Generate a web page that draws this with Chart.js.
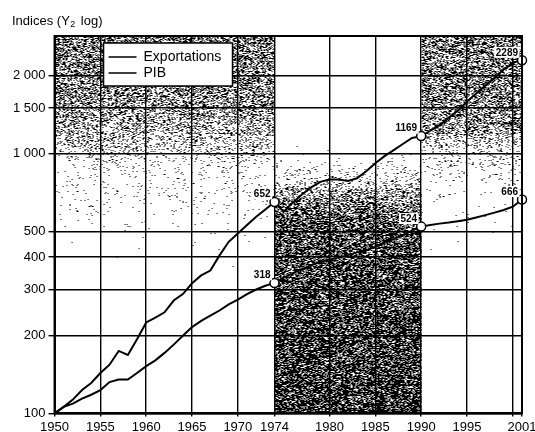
<!DOCTYPE html>
<html lang="fr">
<head>
<meta charset="UTF-8">
<title>Indices Exportations / PIB</title>
<script src="https://cdn.jsdelivr.net/npm/chart.js"></script>
<style>
    html, body { margin: 0; padding: 0; background: white; overflow: hidden; }
    #wrap { position: relative; width: 545px; height: 446px; }
</style>
</head>
<body>
<div id="wrap"><canvas id="chart" width="545" height="446"></canvas></div>
<script>
const years = [1950, 1951, 1952, 1953, 1954, 1955, 1956, 1957, 1958, 1959,
               1960, 1961, 1962, 1963, 1964, 1965, 1966, 1967, 1968, 1969,
               1970, 1971, 1972, 1973, 1974, 1975, 1976, 1977, 1978, 1979,
               1980, 1981, 1982, 1983, 1984, 1985, 1986, 1987, 1988, 1989,
               1990, 1991, 1992, 1993, 1994, 1995, 1996, 1997, 1998, 1999,
               2000, 2001];
const exportations = [100, 106, 113, 123, 131, 143, 154, 174, 168, 193,
                      224, 234, 245, 272, 288, 317, 340, 355, 406, 458,
                      493, 531, 572, 610, 652, 598, 649, 697, 742, 779,
                      796, 796, 786, 804, 856, 919, 979, 1033, 1090, 1150,
                      1169, 1226, 1289, 1372, 1469, 1589, 1707, 1829, 1958, 2111,
                      2243, 2289];
const pib = [100, 106, 109, 114, 118, 123, 132, 135, 135, 143,
             152, 160, 171, 184, 199, 215, 227, 238, 249, 263,
             274, 288, 300, 310, 318, 333, 347, 359, 372, 383,
             391, 398, 407, 417, 425, 438, 454, 469, 485, 506,
             524, 531, 538, 543, 550, 557, 568, 580, 593, 607,
             625, 666];
const markedYears = [1974, 1990, 2001];
const xTicks = [1950, 1955, 1960, 1965, 1970, 1974, 1980, 1985, 1990, 1995, 2000, 2001];
const yTicks = [100, 200, 300, 400, 500, 1000, 1500, 2000];
const periods = [[1950, 1974], [1974, 1990], [1990, 2001]];

const FONT = '"Liberation Sans", Arial, sans-serif';

// density of the dotted background, per period, from top value to bottom value
const shade = [
    [[2840, 0.5], [1600, 0.45], [1100, 0.28], [900, 0.14], [600, 0.07], [450, 0.03], [350, 0]],
    [[2840, 0], [1100, 0], [1000, 0.04], [800, 0.2], [650, 0.5], [550, 0.62], [100, 0.7]],
    [[2840, 0.5], [1300, 0.45], [1050, 0.22], [800, 0.1], [600, 0.05], [450, 0.02], [300, 0]]
];

function grain(x, y) {
    let h = Math.imul(x, 73856093) ^ Math.imul(y, 19349663);
    h ^= h >>> 16;
    h = Math.imul(h, 0x85ebca6b);
    h ^= h >>> 13;
    h = Math.imul(h, 0xc2b2ae35);
    h ^= h >>> 16;
    return (h >>> 0) / 4294967296;
}

function densityAt(stops, py) {
    if (py <= stops[0][0]) return stops[0][1];
    for (let i = 1; i < stops.length; i++) {
        if (py <= stops[i][0]) {
            const t = (py - stops[i - 1][0]) / (stops[i][0] - stops[i - 1][0]);
            return stops[i - 1][1] + t * (stops[i][1] - stops[i - 1][1]);
        }
    }
    return stops[stops.length - 1][1];
}

const stipple = {
    id: 'stipple',
    beforeDraw(chart) {
        const { ctx, chartArea: a, scales: { x, y } } = chart;
        const w = Math.round(a.right - a.left), h = Math.round(a.bottom - a.top);
        const off = document.createElement('canvas');
        off.width = w; off.height = h;
        const octx = off.getContext('2d');
        const img = octx.createImageData(w, h);
        periods.forEach((p, k) => {
            const x0 = Math.round(x.getPixelForValue(p[0]) - a.left);
            const x1 = Math.round(x.getPixelForValue(p[1]) - a.left);
            const stops = shade[k].map(s => [y.getPixelForValue(s[0]) - a.top, s[1]]);
            for (let py = 0; py < h; py++) {
                const d = densityAt(stops, py);
                if (d <= 0) continue;
                for (let px = x0; px < x1; px++) {
                    // fine noise mixed with a little coarser clumping
                    const g = 0.75 * grain(px, py) + 0.25 * grain((px >> 1) + 7001, (py >> 1) + 9001);
                    if (g < d) img.data[(py * w + px) * 4 + 3] = 255;
                }
            }
        });
        octx.putImageData(img, 0, 0);
        ctx.drawImage(off, a.left, a.top, w, h);
    }
};

const pointLabels = {
    id: 'pointLabels',
    afterDatasetsDraw(chart) {
        const ctx = chart.ctx;
        ctx.save();
        ctx.font = 'bold 10px ' + FONT;
        ctx.textAlign = 'right';
        ctx.textBaseline = 'middle';
        chart.data.datasets.forEach((ds, di) => {
            const meta = chart.getDatasetMeta(di);
            ds.data.forEach((pt, i) => {
                if (!markedYears.includes(pt.x)) return;
                const el = meta.data[i];
                const txt = String(pt.y);
                const tx = el.x - 4, ty = el.y - 8;
                const tw = ctx.measureText(txt).width;
                ctx.fillStyle = 'white';
                ctx.fillRect(tx - tw - 1.5, ty - 5.5, tw + 3, 11);
                ctx.fillStyle = 'black';
                ctx.fillText(txt, tx, ty + 0.5);
            });
        });
        ctx.restore();
    },
    afterDraw(chart) {
        const { ctx, chartArea: a } = chart;
        ctx.save();
        // frame
        ctx.strokeStyle = 'black';
        ctx.lineWidth = 2;
        ctx.strokeRect(a.left, a.top, a.right - a.left, a.bottom - a.top);

        // legend
        const lx = a.left + 49, ly = a.top + 7;
        ctx.fillStyle = 'white';
        ctx.fillRect(lx, ly, 129, 43);
        ctx.lineWidth = 1.5;
        ctx.strokeRect(lx, ly, 129, 43);
        ctx.font = '14px ' + FONT;
        ctx.textBaseline = 'middle';
        ctx.textAlign = 'left';
        chart.data.datasets.forEach((ds, i) => {
            const yy = ly + 14 + i * 16;
            ctx.beginPath();
            ctx.moveTo(lx + 5, yy);
            ctx.lineTo(lx + 33, yy);
            ctx.lineWidth = 1.5;
            ctx.stroke();
            ctx.fillStyle = 'black';
            ctx.fillText(ds.label, lx + 40, yy);
        });

        // axis title
        ctx.font = '13px ' + FONT;
        ctx.fillText('Indices (Y', 12, 21);
        let tx = 12 + ctx.measureText('Indices (Y').width;
        ctx.font = '9px ' + FONT;
        ctx.fillText('2', tx + 0.5, 25);
        tx += ctx.measureText('2').width + 6;
        ctx.font = '13px ' + FONT;
        ctx.fillText('log)', tx, 21);
        ctx.restore();
    }
};

function spaced(v) {
    return String(v).replace(/\B(?=(\d{3})+(?!\d))/g, ' ');
}

const ctx = document.getElementById('chart').getContext('2d');
new Chart(ctx, {
    type: 'line',
    data: {
        datasets: [{
            label: 'Exportations',
            data: years.map((yr, i) => ({ x: yr, y: exportations[i] }))
        }, {
            label: 'PIB',
            data: years.map((yr, i) => ({ x: yr, y: pib[i] }))
        }].map(ds => Object.assign(ds, {
            borderColor: 'black',
            borderWidth: 2,
            tension: 0,
            clip: false,
            pointRadius: c => markedYears.includes(years[c.dataIndex]) ? 4.5 : 0,
            pointBackgroundColor: 'white',
            pointBorderColor: 'black',
            pointBorderWidth: 1.5
        }))
    },
    options: {
        responsive: false,
        animation: false,
        events: [],
        layout: { padding: { left: 10, right: 23, top: 36, bottom: 8 } },
        plugins: {
            legend: { display: false },
            tooltip: { enabled: false }
        },
        scales: {
            x: {
                type: 'linear',
                min: 1950,
                max: 2001,
                afterBuildTicks: s => { s.ticks = xTicks.map(v => ({ value: v })); },
                ticks: {
                    autoSkip: false,
                    maxRotation: 0,
                    padding: 3,
                    color: 'black',
                    font: { family: FONT, size: 13 },
                    callback: v => v === 2000 ? '' : String(v)
                },
                grid: { color: 'black', lineWidth: 1.4, tickLength: 3 },
                border: { display: true, color: 'black', width: 2 }
            },
            y: {
                type: 'logarithmic',
                min: 100,
                max: 2840,
                afterBuildTicks: s => { s.ticks = yTicks.map(v => ({ value: v })); },
                ticks: {
                    padding: 3,
                    color: 'black',
                    font: { family: FONT, size: 13 },
                    callback: v => spaced(v)
                },
                grid: { color: 'black', lineWidth: 1.4, tickLength: 6 },
                border: { display: true, color: 'black', width: 2 }
            }
        }
    },
    plugins: [stipple, pointLabels]
});
</script>
</body>
</html>
